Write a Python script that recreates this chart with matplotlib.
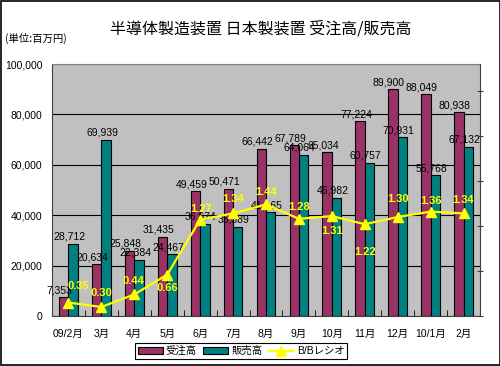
import numpy as np
import matplotlib
matplotlib.use("Agg")
import matplotlib.pyplot as plt
from matplotlib.patches import Rectangle
from matplotlib.lines import Line2D
from matplotlib.ticker import FuncFormatter

plt.rcParams['font.family'] = ['Liberation Sans', 'Noto Sans CJK JP']

months = ['09/2月', '3月', '4月', '5月', '6月', '7月', '8月', '9月', '10月',
          '11月', '12月', '10/1月', '2月']
orders = [7353, 20634, 25848, 31435, 49459, 50471, 66442, 67789, 65034,
          77224, 89900, 88049, 80938]
sales = [28712, 69939, 22384, 24467, 36674, 35389, 41165, 64064, 46982,
         60757, 70931, 55768, 67132]
bb_ratio = [0.35, 0.30, 0.44, 0.66, 1.27, 1.34, 1.44, 1.28, 1.31,
            1.22, 1.30, 1.36, 1.34]

# label offsets for the ratio values, in pixels (dx, dy up)
ratio_offsets = [(10, 17), (0, 14), (-1, 13), (0, -13), (1, 11), (0, 14), (0, 12),
                 (0, 12), (0, -15), (0, -28), (0, 18), (0, 11), (0, 13)]

MAROON = '#993366'
TEAL = '#008080'
YELLOW = '#FFFF00'
PX = 0.72  # points per pixel at 100 dpi

fig = plt.figure(figsize=(5.0, 3.66), dpi=100)
ax = fig.add_axes([0.104, 0.1366, 0.856, 0.6885])
ax.set_facecolor('#C0C0C0')

x = np.arange(len(months))
w = 0.286
ax.bar(x - w / 2, orders, w, color=MAROON, edgecolor='black', linewidth=0.8, zorder=3)
ax.bar(x + w / 2, sales, w, color=TEAL, edgecolor='black', linewidth=0.8, zorder=3)

for xi, v in zip(x - w / 2, orders):
    ax.annotate(f'{v:,}', (xi, v), xytext=(-4 * PX, 2 * PX), textcoords='offset points',
                ha='center', va='bottom', fontsize=7.5, zorder=4)
for xi, v in zip(x + w / 2, sales):
    ax.annotate(f'{v:,}', (xi, v), xytext=(-4 * PX, 2 * PX), textcoords='offset points',
                ha='center', va='bottom', fontsize=7.5, zorder=4)

ax.set_xlim(-0.5, len(months) - 0.5)
ax.set_ylim(0, 100000)
ax.set_yticks(np.arange(0, 100001, 20000))
ax.yaxis.set_major_formatter(FuncFormatter(lambda v, p: f'{int(v):,}'))
ax.tick_params(axis='y', length=0, pad=7, labelsize=7.5)
ax.yaxis.grid(True, color='black', linewidth=0.8, zorder=1)
ax.set_axisbelow(True)

ax.set_xticks(x)
ax.set_xticklabels(months, fontsize=7.5)
ax.set_xticks(np.arange(-0.5, len(months), 1), minor=True)
ax.tick_params(axis='x', which='major', length=0, pad=9)
ax.tick_params(axis='x', which='minor', direction='in', length=4, color='black')

ax.spines['top'].set_color('#808080')
ax.spines['left'].set_color('#404040')
ax.spines['bottom'].set_color('#404040')
ax.spines['right'].set_visible(False)

ax2 = ax.twinx()
ax2.plot(x, bb_ratio, color=YELLOW, linewidth=1.6, marker='^', markersize=6.5,
         markerfacecolor=YELLOW, markeredgecolor=YELLOW, zorder=5)
ax2.set_ylim(0.2, 3.0)
ax2.set_yticks(np.arange(0.2, 2.75, 0.5))
ax2.set_yticklabels([])
ax2.tick_params(axis='y', direction='inout', length=4, color='#404040')
ax2.spines['right'].set_color('#404040')
for s in ['top', 'left', 'bottom']:
    ax2.spines[s].set_visible(False)

for xi, v, (dx, dy) in zip(x, bb_ratio, ratio_offsets):
    ax2.annotate(f'{v:.2f}', (xi, v), xytext=(dx * PX, dy * PX), textcoords='offset points',
                 ha='center', va='center', fontsize=8, fontweight='bold', color=YELLOW, zorder=6)

fig.text(0.522, 1 - 29 / 366, '半導体製造装置 日本製装置 受注高/販売高',
         ha='center', va='center', fontsize=11.5, family=['Noto Sans CJK JP'])
fig.text(0.01, 1 - 38 / 366, '(単位:百万円)', ha='left', va='center', fontsize=7.5,
         family=['Noto Sans CJK JP'])

handles = [Rectangle((0, 0), 1, 1, facecolor=MAROON, edgecolor='black', linewidth=0.8),
           Rectangle((0, 0), 1, 1, facecolor=TEAL, edgecolor='black', linewidth=0.8),
           Line2D([], [], color=YELLOW, linewidth=1.6, marker='^', markersize=6.5)]
leg = fig.legend(handles, ['受注高', '販売高', 'B/Bレシオ'], loc='center',
                 bbox_to_anchor=(0.482, 1 - 351 / 366), ncol=3, fontsize=7.5,
                 frameon=True, fancybox=False, edgecolor='black', framealpha=1,
                 borderpad=0.25, handlelength=2.4, handletextpad=0.3, columnspacing=0.6,
                 handleheight=0.6)
leg.get_frame().set_linewidth(0.8)

fig.patches.append(Rectangle((0.001, 0.0015), 0.998, 0.997, transform=fig.transFigure,
                             fill=False, edgecolor='black', linewidth=1.2))

fig.savefig('out.png', dpi=100)
